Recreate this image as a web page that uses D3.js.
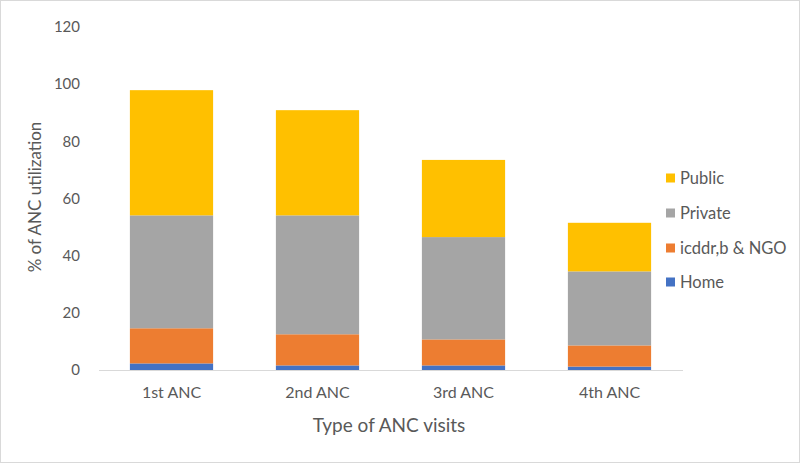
<!DOCTYPE html>
<html><head><meta charset="utf-8">
<script src="https://cdn.jsdelivr.net/npm/d3@7"></script>
<style>body{margin:0;background:#fff}svg{display:block}text{font-family:Lato,"Open Sans",sans-serif;fill:#595959}</style>
</head><body>
<script>
const categories = ["1st ANC","2nd ANC","3rd ANC","4th ANC"];
const seriesNames = ["Home","icddr,b & NGO","Private","Public"];
const home = [2.3,1.6,1.6,1.2];
const icddr = [12.3,10.9,9.1,7.4];
const privateV = [39.5,41.6,35.8,25.9];
const publicV = [43.8,36.8,27.0,17.0];
const colors = ["#4472C4","#ED7D31","#A5A5A5","#FFC000"];
const yTicks = [0,20,40,60,80,100,120];

const W=800,H=463;
const svg=d3.select("body").append("svg").attr("width",W).attr("height",H);
svg.append("rect").attr("x",0.5).attr("y",0.5).attr("width",W-1).attr("height",H-1).attr("fill","#fff").attr("stroke","#d9d9d9");

const x=d3.scaleBand().domain(categories).range([98.5,682.5]).paddingInner(0.43).paddingOuter(0.215);
const y=d3.scaleLinear().domain([0,120]).range([370,27]);

const table=categories.map((c,i)=>({cat:c,"Home":home[i],"icddr,b & NGO":icddr[i],"Private":privateV[i],"Public":publicV[i]}));
const stack=d3.stack().keys(seriesNames)(table);

svg.append("g").selectAll("g").data(stack).join("g").attr("fill",(d,i)=>colors[i])
 .selectAll("rect").data(d=>d).join("rect")
 .attr("x",d=>x(d.data.cat)).attr("width",x.bandwidth())
 .attr("y",d=>y(d[1])).attr("height",d=>y(d[0])-y(d[1]));

const yAxis=svg.append("g").attr("transform","translate(80,0)").call(d3.axisLeft(y).tickValues(yTicks).tickSize(0).tickPadding(0));
yAxis.select(".domain").remove();
yAxis.selectAll("text").attr("font-size",15).attr("fill","#595959").style("font-family","Lato,sans-serif");

const xAxis=svg.append("g").attr("transform","translate(0,370)").call(d3.axisBottom(x).tickSize(0).tickPadding(17));
xAxis.select(".domain").attr("stroke","#d9d9d9").attr("stroke-width",1.2);
xAxis.selectAll("text").attr("font-size",16).attr("fill","#595959").style("font-family","Lato,sans-serif");

svg.append("text").attr("x",389).attr("y",432).attr("text-anchor","middle").attr("font-size",19).text("Type of ANC visits");
svg.append("text").attr("transform","translate(41,197) rotate(-90)").attr("text-anchor","middle").attr("font-size",17).text("% of ANC utilization");

const legendItems=[3,2,1,0];
const ly=[178,213,248,282];
const lg=svg.append("g");
legendItems.forEach((si,k)=>{
  lg.append("rect").attr("x",666).attr("y",ly[k]-4.5).attr("width",9).attr("height",9).attr("fill",colors[si]);
  lg.append("text").attr("x",680).attr("y",ly[k]).attr("dy","0.35em").attr("font-size",16.5).text(seriesNames[si]);
});
</script>
</body></html>
